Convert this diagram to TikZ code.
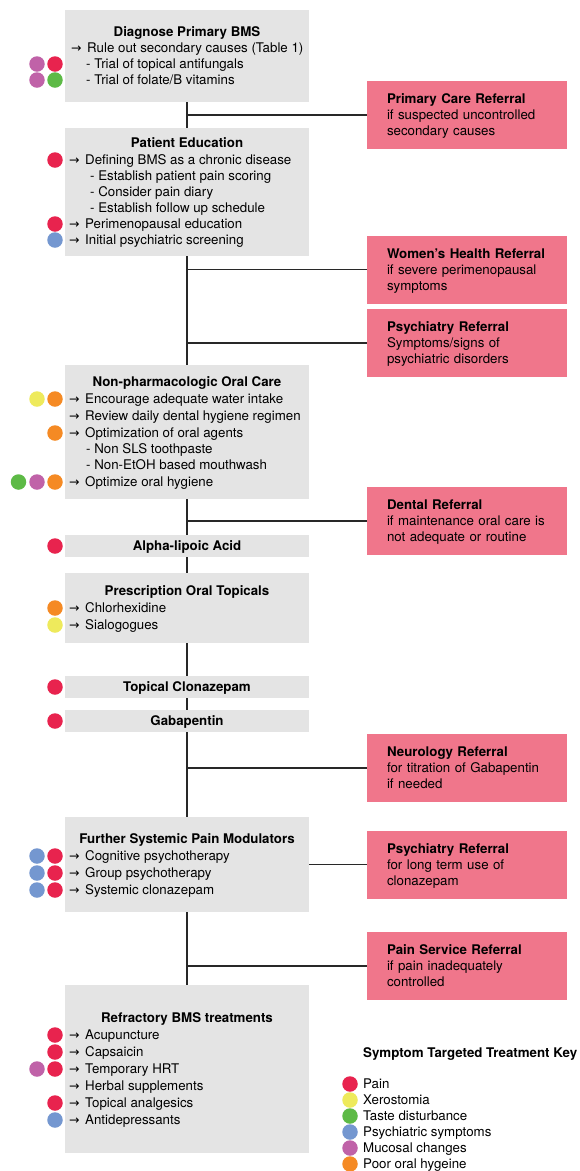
\documentclass[tikz,border=0pt]{standalone}
\usepackage{fontspec}
\setmainfont{TeX Gyre Heros}
\newfontfamily\arrowfont{DejaVu Sans}
\definecolor{boxgray}{RGB}{228,228,228}
\definecolor{refpink}{RGB}{240,118,139}
\definecolor{linegray}{RGB}{40,40,40}
\definecolor{cpain}{RGB}{232,35,78}
\definecolor{cxero}{RGB}{238,234,92}
\definecolor{ctaste}{RGB}{93,186,70}
\definecolor{cpsych}{RGB}{116,151,208}
\definecolor{cmuc}{RGB}{192,98,168}
\definecolor{coral}{RGB}{245,138,36}
\newcounter{nn}
\newcommand{\arr}{\makebox[16pt][l]{\arrowfont\fontsize{12.5}{16}\selectfont →}}
\newcommand{\symdot}[3]{\stepcounter{nn}\node[sdot,fill=#3] (dot\thenn) at (#1,#2) {};}
\newcommand{\txtline}[3]{\stepcounter{nn}\node[txt] (line\thenn) at (#1,#2+4.7) {#3};}
\newcommand{\ttlline}[2]{\stepcounter{nn}\node[ttl] (ttl\thenn) at (187,#1+4.7) {#2};}
\newcommand{\rtext}[3]{\rule{0pt}{14.2pt}\textbf{#1}\\#2\\#3\rule[-4.8pt]{0pt}{4.8pt}}
\begin{document}
\begin{tikzpicture}[x=1pt,y=-1pt,
  font=\fontsize{13.3}{16}\selectfont,
  graybox/.style={fill=boxgray, draw=none, minimum width=244pt, inner sep=0pt},
  onebox/.style={graybox, minimum height=22pt, text height=9.5pt, text depth=0pt, font=\fontsize{13.3}{16}\selectfont\bfseries},
  refbox/.style={fill=refpink, draw=none, minimum width=200pt, minimum height=68pt, text width=160pt, inner xsep=20pt, inner ysep=0pt, align=left},
  txt/.style={inner sep=0pt, anchor=base west},
  ttl/.style={inner sep=0pt, anchor=base, font=\fontsize{13.3}{16}\selectfont\bfseries},
  sdot/.style={circle, minimum size=15.5pt, inner sep=0pt, draw=none},
  conn/.style={draw=linegray, line width=1.5pt}]
\useasboundingbox (0,0) rectangle (580,1171);
\fill[white] (0,0) rectangle (580,1171);
\coordinate (trunk) at (187,0);

% ---------- gray boxes ----------
\node[graybox, minimum height=92pt] (diag) at (187,56) {};
\node[graybox, minimum height=128pt] (ped) at (187,192) {};
\node[graybox, minimum height=134pt] (npo) at (187,432) {};
\node[onebox] (ala) at (187,546) {Alpha-lipoic Acid};
\node[graybox, minimum height=70pt] (pot) at (187,608) {};
\node[onebox] (tcl) at (187,687) {Topical Clonazepam};
\node[onebox] (gab) at (187,721) {Gabapentin};
\node[graybox, minimum height=95pt] (fsp) at (187,864.5) {};
\node[graybox, minimum height=168pt] (rbt) at (187,1069) {};

% ---------- referral boxes ----------
\node[refbox] (pcr) at (467,115) {\rtext{Primary Care Referral}{if suspected uncontrolled}{secondary causes}};
\node[refbox] (whr) at (467,269.5) {\rtext{Women’s Health Referral}{if severe perimenopausal}{symptoms}};
\node[refbox] (psa) at (467,343) {\rtext{Psychiatry Referral}{Symptoms/signs of}{psychiatric disorders}};
\node[refbox] (den) at (467,521) {\rtext{Dental Referral}{if maintenance oral care is}{not adequate or routine}};
\node[refbox] (neu) at (467,768) {\rtext{Neurology Referral}{for titration of Gabapentin}{if needed}};
\node[refbox] (psb) at (467,864.5) {\rtext{Psychiatry Referral}{for long term use of}{clonazepam}};
\node[refbox] (pai) at (467,966) {\rtext{Pain Service Referral}{if pain inadequately}{controlled}};

% ---------- connectors ----------
\draw[conn] (diag.south) -- (ped.north);
\draw[conn] (ped.south) -- (npo.north);
\draw[conn] (npo.south) -- (ala.north);
\draw[conn] (ala.south) -- (pot.north);
\draw[conn] (pot.south) -- (tcl.north);
\draw[conn] (tcl.south) -- (gab.north);
\draw[conn] (gab.south) -- (fsp.north);
\draw[conn] (fsp.south) -- (rbt.north);
\draw[conn] (pcr.west -| trunk) -- (pcr.west);
\draw[conn] (whr.west -| trunk) -- (whr.west);
\draw[conn] (psa.west -| trunk) -- (psa.west);
\draw[conn] (den.west -| trunk) -- (den.west);
\draw[conn] (neu.west -| trunk) -- (neu.west);
\draw[conn] (fsp.east) -- (psb.west);
\draw[conn] (pai.west -| trunk) -- (pai.west);

% ---------- Diagnose ----------
\ttlline{32}{Diagnose Primary BMS}
\txtline{71}{48}{\arr Rule out secondary causes (Table 1)}
\txtline{86}{64}{- Trial of topical antifungals}
\txtline{86}{80}{- Trial of folate/B vitamins}
\symdot{37}{64}{cmuc}\symdot{55}{64}{cpain}
\symdot{37}{80}{cmuc}\symdot{55}{80}{ctaste}

% ---------- Patient Education ----------
\ttlline{143}{Patient Education}
\txtline{69}{160}{\arr Defining BMS as a chronic disease}
\txtline{90}{176}{- Establish patient pain scoring}
\txtline{90}{192}{- Consider pain diary}
\txtline{90}{208}{- Establish follow up schedule}
\txtline{69}{224}{\arr Perimenopausal education}
\txtline{69}{240}{\arr Initial psychiatric screening}
\symdot{55}{160}{cpain}
\symdot{55}{224}{cpain}
\symdot{55}{240}{cpsych}

% ---------- Non-pharmacologic ----------
\ttlline{382}{Non-pharmacologic Oral Care}
\txtline{69}{399}{\arr Encourage adequate water intake}
\txtline{69}{416}{\arr Review daily dental hygiene regimen}
\txtline{69}{433}{\arr Optimization of oral agents}
\txtline{86}{449}{- Non SLS toothpaste}
\txtline{86}{465}{- Non-EtOH based mouthwash}
\txtline{69}{482}{\arr Optimize oral hygiene}
\symdot{37}{399}{cxero}\symdot{55}{399}{coral}
\symdot{55}{433}{coral}
\symdot{18.5}{482}{ctaste}\symdot{37}{482}{cmuc}\symdot{55}{482}{coral}

% ---------- Alpha-lipoic ----------
\symdot{55}{546}{cpain}

% ---------- Prescription ----------
\ttlline{591}{Prescription Oral Topicals}
\txtline{69}{608}{\arr Chlorhexidine}
\txtline{69}{625}{\arr Sialogogues}
\symdot{55}{608}{coral}
\symdot{55}{625}{cxero}

% ---------- Clonazepam / Gabapentin ----------
\symdot{55}{687}{cpain}
\symdot{55}{721}{cpain}

% ---------- Further Systemic ----------
\ttlline{839}{Further Systemic Pain Modulators}
\txtline{69}{856}{\arr Cognitive psychotherapy}
\txtline{69}{873}{\arr Group psychotherapy}
\txtline{69}{890}{\arr Systemic clonazepam}
\symdot{37}{856}{cpsych}\symdot{55}{856}{cpain}
\symdot{37}{873}{cpsych}\symdot{55}{873}{cpain}
\symdot{37}{890}{cpsych}\symdot{55}{890}{cpain}

% ---------- Refractory ----------
\ttlline{1018}{Refractory BMS treatments}
\txtline{69}{1035}{\arr Acupuncture}
\txtline{69}{1052}{\arr Capsaicin}
\txtline{69}{1069}{\arr Temporary HRT}
\txtline{69}{1086}{\arr Herbal supplements}
\txtline{69}{1103}{\arr Topical analgesics}
\txtline{69}{1120}{\arr Antidepressants}
\symdot{55}{1035}{cpain}
\symdot{55}{1052}{cpain}
\symdot{37}{1069}{cmuc}\symdot{55}{1069}{cpain}
\symdot{55}{1103}{cpain}
\symdot{55}{1120}{cpsych}

% ---------- Legend ----------
\node[txt, font=\fontsize{13.3}{16}\selectfont\bfseries] (keyttl) at (363,1057.7) {Symptom Targeted Treatment Key};
\symdot{350}{1084}{cpain}\txtline{363}{1084}{Pain}
\symdot{350}{1100}{cxero}\txtline{363}{1100}{Xerostomia}
\symdot{350}{1116}{ctaste}\txtline{363}{1116}{Taste disturbance}
\symdot{350}{1132}{cpsych}\txtline{363}{1132}{Psychiatric symptoms}
\symdot{350}{1148}{cmuc}\txtline{363}{1148}{Mucosal changes}
\symdot{350}{1164}{coral}\txtline{363}{1164}{Poor oral hygeine}
\end{tikzpicture}
\end{document}
